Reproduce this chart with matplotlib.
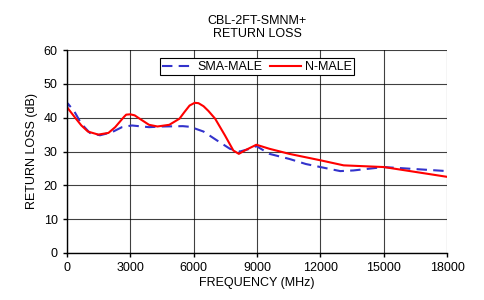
import matplotlib.pyplot as plt
import numpy as np

plt.rcParams['font.family'] = ['Liberation Sans', 'DejaVu Sans']

# N-MALE (red, solid)
freq_n = [0, 370, 690, 1000, 1490, 1970, 2290, 2700, 2810, 3000, 3210, 3400,
          3890, 4290, 4850, 5330, 5570, 5810, 6050, 6230, 6470, 6700, 7020,
          7480, 7880, 8140, 8420, 8970, 9590, 10530, 12000, 13100, 15000, 18000]
rl_n = [43.2, 40.2, 37.7, 35.9, 35.0, 35.5, 37.2, 40.2, 40.9, 41.0, 40.7, 39.9,
        37.9, 37.4, 37.9, 39.7, 41.7, 43.6, 44.4, 44.3, 43.4, 42.0, 39.7,
        34.8, 30.3, 29.3, 30.3, 32.0, 30.8, 29.3, 27.4, 25.9, 25.4, 22.5]

# SMA-MALE (blue, dashed)
freq_s = [0, 50, 370, 690, 1090, 1570, 2130, 2610, 3080, 3890, 4530, 5490,
          5840, 6470, 7100, 7720, 8190, 8660, 8970, 9590, 10530, 11310, 12000,
          12940, 13570, 15000, 18000]
rl_s = [42.5, 44.2, 41.7, 38.2, 35.5, 34.8, 35.7, 37.2, 37.7, 37.2, 37.4, 37.5,
        37.3, 35.9, 33.3, 30.8, 30.0, 30.8, 31.6, 29.3, 27.8, 26.3, 25.4,
        24.2, 24.4, 25.4, 24.2]

xticks = [0, 3000, 6000, 9000, 12000, 15000, 18000]
yticks = [0, 10, 20, 30, 40, 50, 60]

fig = plt.figure(figsize=(4.84, 3.0), dpi=100)
ax = fig.add_axes([0.138, 0.157, 0.786, 0.676])

ax.plot(freq_s, rl_s, color='#3333CC', lw=1.5, ls=(0, (5, 3)), label='SMA-MALE')
ax.plot(freq_n, rl_n, color='#FF0000', lw=1.5, label='N-MALE')

ax.set_xlim(0, 18000)
ax.set_ylim(0, 60)
ax.set_xticks(xticks)
ax.set_yticks(yticks)
ax.tick_params(labelsize=9, length=3, width=1, colors='black')
ax.grid(True, color='#000000', lw=0.8, alpha=0.75)
ax.set_axisbelow(True)
for s in ['top', 'right']:
    ax.spines[s].set_visible(False)
ax.spines['left'].set_linewidth(1)
ax.spines['bottom'].set_linewidth(1)

ax.set_xlabel('FREQUENCY (MHz)', fontsize=9, labelpad=2)
ax.set_ylabel('RETURN LOSS (dB)', fontsize=9, labelpad=4)
fig.text(0.531, 0.95, 'CBL-2FT-SMNM+\nRETURN LOSS', ha='center', va='top',
         fontsize=9, linespacing=1.1)

leg = ax.legend(loc='upper center', ncol=2, fontsize=9, frameon=True,
                fancybox=False, edgecolor='black', framealpha=1,
                borderpad=0.2, handlelength=2.5, columnspacing=0.6,
                handletextpad=0.3, bbox_to_anchor=(0.5, 0.99))
leg.get_frame().set_linewidth(0.8)

fig.savefig('out.png', dpi=100)
